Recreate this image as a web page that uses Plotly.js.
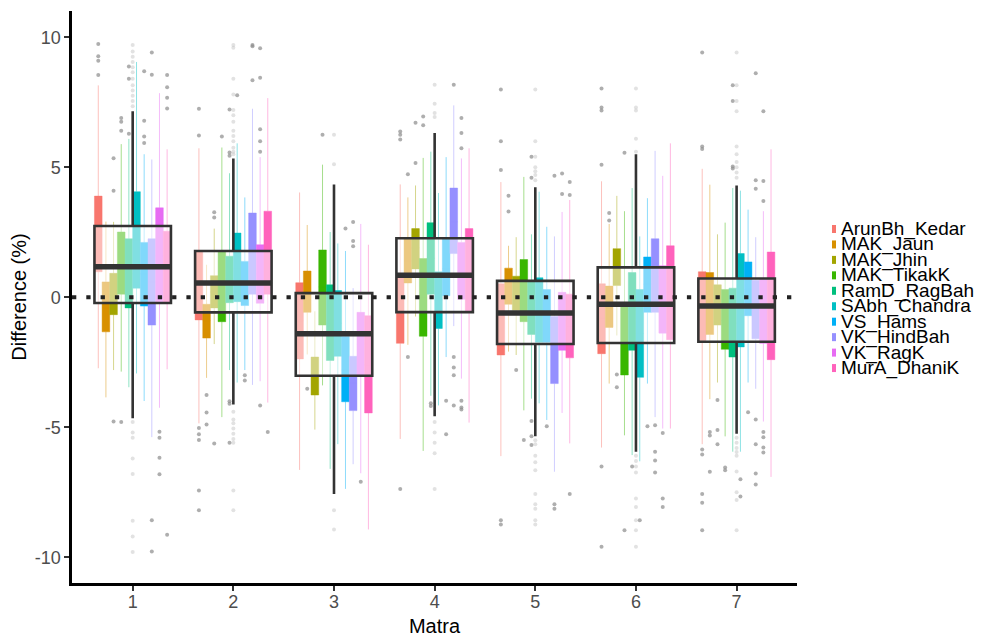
<!DOCTYPE html>
<html>
<head>
<meta charset="utf-8">
<script src="https://cdn.plot.ly/plotly-3.0.1.min.js"></script>
<style>
  html, body { margin: 0; padding: 0; background: #ffffff; }
  #plot { width: 1000px; height: 643px; }
</style>
</head>
<body>
<div id="plot"></div>
<script>
const matra = [1, 2, 3, 4, 5, 6, 7];

const performers = [
  "ArunBh_Kedar", "MAK_Jaun", "MAK_Jhin", "MAK_TikakK", "RamD_RagBah",
  "SAbh_Chandra", "VS_Hams", "VK_HindBah", "VK_RagK", "MurA_DhaniK",
];

const performerColors = [
  "#F8766D", "#D89000", "#A3A500", "#39B600", "#00BF7D",
  "#00BFC4", "#00B0F6", "#9590FF", "#E76BF3", "#FF62BC",
];

// per performer, one value per matra
const lowerFence = [
  [-2.73, -4.85, -6.64, -5.45, -6.11, -5.78, -5.65],
  [-3.85, -3.10, -2.20, -1.83, -2.09, -3.32, -3.92],
  [-2.80, -1.80, -5.09, -0.74, -2.22, -1.47, -3.28],
  [-2.86, -4.61, -3.39, -5.91, -4.35, -5.31, -5.35],
  [-3.46, -2.80, -6.60, -3.79, -3.90, -6.07, -5.94],
  [-2.93, -3.28, -5.65, -4.16, -4.08, -6.31, -5.94],
  [-3.99, -2.80, -7.37, -2.30, -4.72, -3.32, -3.28],
  [-5.38, -3.37, -6.42, -1.11, -6.71, -4.61, -3.52],
  [-4.25, -3.23, -6.77, -3.13, -4.45, -5.05, -4.78],
  [-2.77, -4.05, -8.93, -4.82, -5.62, -5.05, -6.91],
];

const q1 = [
  [0.98, -0.87, -2.37, -1.77, -2.22, -2.17, -1.67],
  [-1.33, -1.57, -0.58, 0.55, -0.27, -1.16, -1.43],
  [-0.67, -0.41, -3.76, 1.09, -0.50, 0.45, -1.07],
  [0.12, -0.94, -1.07, -1.50, -0.94, -2.99, -2.00],
  [-0.41, -0.21, -2.43, 0.12, -1.43, -2.04, -2.30],
  [0.35, -0.17, -2.27, -1.20, -1.73, -3.08, -1.91],
  [-0.34, -0.32, -4.02, 0.06, -1.73, -0.58, -0.71],
  [-1.07, 0.12, -4.36, 1.68, -3.32, -0.58, -1.60],
  [-0.21, -0.23, -3.03, -0.08, -2.04, -1.38, -1.77],
  [-0.21, 0.12, -4.45, -0.58, -2.33, -1.63, -2.40],
];

const median = [
  [2.4, 0.5, -0.9, -0.5, -0.8, -0.8, -0.3],
  [-0.4, -0.9, 0.2, 1.4, 0.4, -0.4, -0.2],
  [0.1, 0.2, -3.0, 1.9, 0.1, 1.1, -0.3],
  [1.3, 0.4, 0.4, 0.0, 0.2, -1.7, -0.9],
  [0.9, 0.7, -1.0, 1.5, -0.4, -0.5, -1.0],
  [2.2, 1.1, -1.0, -0.1, -0.5, -1.4, -0.1],
  [0.9, 0.5, -2.8, 1.1, -0.7, 0.5, 0.3],
  [0.6, 1.7, -3.3, 2.9, -2.0, 0.8, -0.5],
  [1.6, 0.9, -1.8, 1.0, -0.9, -0.1, -0.5],
  [1.2, 1.7, -2.6, 1.0, -1.1, 0.2, -0.3],
];

const q3 = [
  [3.89, 1.78, 0.56, 0.75, 0.52, 0.52, 0.98],
  [0.59, -0.27, 1.01, 2.27, 1.12, 0.43, 0.95],
  [0.92, 0.83, -2.30, 2.64, 0.81, 1.87, 0.48],
  [2.51, 1.78, 1.82, 1.49, 1.45, -0.34, 0.30],
  [2.25, 1.58, 0.48, 2.87, 0.63, 0.95, 0.35],
  [4.06, 2.47, 0.26, 0.98, 0.75, 0.30, 1.68],
  [2.11, 1.38, -1.51, 2.24, 0.30, 1.55, 1.36],
  [2.25, 3.24, -2.27, 4.20, -0.74, 2.25, 0.65],
  [3.44, 2.02, -0.58, 2.11, 0.19, 1.21, 0.69],
  [2.54, 3.31, -0.71, 2.64, 0.12, 1.98, 1.74],
];

const upperFence = [
  [8.15, 5.73, 4.03, 4.34, 4.43, 4.46, 4.94],
  [2.91, 1.25, 2.78, 3.84, 1.98, 2.82, 4.33],
  [2.90, 2.64, -0.54, 4.30, 2.31, 3.90, 2.42],
  [5.89, 5.76, 5.10, 5.36, 4.63, 3.31, 2.87],
  [6.09, 4.77, 2.51, 5.60, 2.42, 4.20, 4.20],
  [9.05, 5.92, 2.07, 4.01, 4.06, 2.34, 4.10],
  [5.50, 3.84, 1.78, 5.39, 2.71, 3.81, 3.37],
  [5.30, 7.25, 0.35, 7.38, 2.34, 5.63, 2.31],
  [7.85, 5.39, 2.82, 5.34, 3.28, 4.67, 3.31],
  [5.69, 7.66, 2.02, 5.73, 3.74, 5.92, 5.69],
];

// pooled box per matra
const allLower = [-4.65, -4.12, -7.57, -4.58, -5.35, -5.94, -5.25];
const allQ1 = [-0.22, -0.58, -3.02, -0.57, -1.80, -1.76, -1.71];
const allMedian = [1.17, 0.55, -1.40, 0.85, -0.61, -0.27, -0.34];
const allQ3 = [2.74, 1.78, 0.16, 2.27, 0.63, 1.15, 0.72];
const allUpper = [7.15, 5.34, 4.34, 6.32, 4.23, 5.50, 4.30];

// outliers: [matra, value] pairs per performer
const performerOutliers = [
  [[1, 9.74], [1, 9.27], [1, 9.1], [1, 8.55], [2, 7.25], [2, 6.22], [2, -5.03], [2, -5.27],
   [2, -5.49], [2, -7.43], [2, -8.19], [4, 6.38], [4, 6.25], [4, 6.07], [4, -7.37],
   [5, 7.99], [5, 6.0], [5, 4.89], [5, -8.58], [5, -8.74], [6, 8.03], [6, 7.3], [6, 7.18],
   [6, 5.1], [6, -6.51], [6, -9.6], [7, 9.41], [7, 5.8], [7, 5.7], [7, -5.86], [7, -6.05],
   [7, -7.57], [7, -7.9], [7, -8.96]],
  [[2, -3.76], [2, -4.43], [2, -4.89], [3, -3.52], [4, 4.73], [4, -2.3], [5, 3.9], [5, 3.3],
   [6, 3.24], [6, 2.95], [7, -5.18], [7, -5.32], [7, -6.71]],
  [[1, 5.35], [1, 4.1], [1, -4.78], [2, 3.27], [2, 3.07], [2, -5.62], [4, 6.71], [4, 5.16],
   [5, -2.8], [6, -2.97], [6, -3.46], [7, -3.95], [7, -5.11], [7, -5.65]],
  [[1, 6.89], [1, 6.75], [1, 6.4], [1, -4.8], [2, 6.18], [3, 6.25], [4, 6.95], [4, 6.62],
   [5, -5.49], [6, 5.56], [6, -8.96], [7, -6.55], [7, -6.65]],
  [[1, 8.88], [1, 8.4], [1, 6.29], [2, 7.22], [2, 5.57], [2, 5.44], [2, -4.0], [2, -4.1],
   [2, -5.6], [4, -4.08], [4, -4.18], [5, 5.4], [5, 4.6], [5, -4.76], [5, -5.35], [5, -5.68],
   [6, -6.51], [7, 8.15], [7, 7.55], [7, 5.03], [7, 4.95]],
  [[2, 7.77], [6, -8.58], [7, -7.0], [7, -7.66]],
  [[1, 8.69], [1, 6.79], [1, 6.18], [1, 5.93], [2, -3.0], [2, -3.2], [3, 2.64], [4, -3.98],
   [4, -5.27], [5, -4.96], [6, -4.96], [7, -4.42]],
  [[1, 9.41], [1, 8.56], [1, -8.58], [1, -9.78], [2, 9.7], [2, 9.65], [2, 8.35], [3, 2.89],
   [3, 2.16], [3, 1.96], [4, 8.17], [4, -2.3], [4, -2.7], [4, -3.0], [4, -4.16], [5, 4.67],
   [5, -7.96], [5, -8.13], [6, -4.92], [6, -5.94], [6, -6.28], [6, -6.74], [7, 8.62],
   [7, 4.5], [7, 4.17], [7, -4.7], [7, -5.65], [7, -6.78], [7, -7.2]],
  [[1, -5.17], [1, -5.4], [1, -6.17], [1, -6.81], [2, 9.58], [2, 8.44], [2, 6.46], [2, 6.0],
   [2, 5.6], [2, -4.16], [3, -7.1], [4, 6.89], [4, 6.32], [4, 5.73], [4, -3.98], [4, -4.24],
   [4, -4.32], [5, 4.76], [5, 3.97], [6, -5.22], [6, -7.74], [6, -8.07], [7, 7.15], [7, 4.47],
   [7, 3.7], [7, -5.18], [7, -5.38], [7, -5.78], [7, -5.97]],
  [[1, 8.55], [1, 8.08], [1, 7.67], [1, 7.26], [1, -9.13], [2, -5.18], [5, 4.43], [5, 3.93],
   [5, -7.57]],
];

const pooledOutliers = [
  [1, 9.7], [1, 9.45], [1, 9.25], [1, 9.05], [1, 8.85], [1, 8.65], [1, 8.4], [1, 8.15],
  [1, 7.95], [1, 7.75], [1, 7.55], [1, 7.35], [1, -4.8], [1, -5.2], [1, -5.4], [1, -6.2],
  [1, -6.8], [1, -8.6], [1, -9.2], [1, -9.8],
  [2, 9.7], [2, 9.6], [2, 8.4], [2, 7.8], [2, 7.2], [2, 7.0], [2, 6.75], [2, 6.4], [2, 6.2],
  [2, 6.0], [2, 5.75], [2, 5.6], [2, 5.5], [2, -4.4], [2, -4.7], [2, -4.85], [2, -5.05],
  [2, -5.25], [2, -5.45], [2, -5.6], [2, -7.43], [2, -8.19],
  [3, 6.25], [3, 5.12], [3, -8.19], [3, -8.93],
  [4, 8.17], [4, 7.44], [4, 7.09], [4, 6.93], [4, -4.8], [4, -5.2], [4, -5.6], [4, -6.0],
  [4, -7.37],
  [5, 7.99], [5, 6.0], [5, 5.4], [5, 5.0], [5, 4.85], [5, 4.7], [5, 4.5], [5, -5.5],
  [5, -5.65], [5, -6.1], [5, -6.35], [5, -6.65], [5, -7.57], [5, -7.96], [5, -8.13],
  [5, -8.58], [5, -8.74],
  [6, 8.03], [6, 7.3], [6, 7.18], [6, 6.1], [6, 5.6], [6, -6.1], [6, -6.3], [6, -6.51],
  [6, -6.74], [6, -7.74], [6, -8.07], [6, -8.58], [6, -8.96], [6, -9.6],
  [7, 9.41], [7, 8.15], [7, 7.55], [7, 7.15], [7, 5.8], [7, 5.5], [7, 5.2], [7, 5.0],
  [7, 4.8], [7, 4.6], [7, -5.4], [7, -5.6], [7, -5.8], [7, -5.95], [7, -6.1], [7, -6.7],
  [7, -7.5], [7, -7.8], [7, -8.96],
];

const yTickVals = [-10, -5, 0, 5, 10];
const yTickText = ["-10", "-5", "0", "5", "10"];

const FONT = '"Liberation Sans", Arial, sans-serif';
const BOX_GAP = 0.24;
const GROUP_SPAN = 1 - BOX_GAP;

function hexToRgba(hex, a) {
  const n = parseInt(hex.slice(1), 16);
  return "rgba(" + ((n >> 16) & 255) + "," + ((n >> 8) & 255) + "," + (n & 255) + "," + a + ")";
}

function slotX(m, k) {
  // centre of performer k's dodged box at matra m
  const w = GROUP_SPAN / performers.length;
  return m + (k + 0.5 - performers.length / 2) * w;
}

const traces = [];

performers.forEach((name, k) => {
  traces.push({
    type: "box",
    name: name,
    x: matra,
    lowerfence: lowerFence[k],
    q1: q1[k],
    median: median[k],
    q3: q3[k],
    upperfence: upperFence[k],
    alignmentgroup: "perf",
    offsetgroup: name,
    fillcolor: performerColors[k],
    line: { color: hexToRgba(performerColors[k], 0.45), width: 1 },
    whiskerwidth: 0,
    boxpoints: false,
    showlegend: false,
    hoverinfo: "skip",
  });
});

traces.push({
  type: "box",
  name: "all",
  x: matra,
  lowerfence: allLower,
  q1: allQ1,
  median: allMedian,
  q3: allQ3,
  upperfence: allUpper,
  alignmentgroup: "pool",
  offsetgroup: "pool",
  fillcolor: "rgba(255,255,255,0.5)",
  line: { color: "#333333", width: 2.6 },
  whiskerwidth: 0,
  boxpoints: false,
  showlegend: false,
  hoverinfo: "skip",
});

// thick median bar for the pooled box
traces.push({
  type: "box",
  name: "all-median",
  x: matra,
  lowerfence: allMedian,
  q1: allMedian,
  median: allMedian,
  q3: allMedian,
  upperfence: allMedian,
  alignmentgroup: "pool",
  offsetgroup: "pool",
  fillcolor: "rgba(0,0,0,0)",
  line: { color: "#333333", width: 5.5 },
  whiskerwidth: 0,
  boxpoints: false,
  showlegend: false,
  hoverinfo: "skip",
});

traces.push({
  type: "scatter",
  mode: "markers",
  x: pooledOutliers.map((p) => p[0]),
  y: pooledOutliers.map((p) => p[1]),
  marker: { color: "rgba(190,190,190,0.45)", size: 4 },
  showlegend: false,
  hoverinfo: "skip",
});

const ox = [];
const oy = [];
performerOutliers.forEach((list, k) => {
  list.forEach((p) => {
    ox.push(slotX(p[0], k));
    oy.push(p[1]);
  });
});
traces.push({
  type: "scatter",
  mode: "markers",
  x: ox,
  y: oy,
  marker: { color: "rgba(140,140,140,0.7)", size: 4 },
  showlegend: false,
  hoverinfo: "skip",
});

// compact legend drawn as text + key rects (ggplot style)
const plotLeft = 72, plotWidth = 725, plotTop = 11, plotHeight = 572;
const legendTextX = (839 - plotLeft) / plotWidth;
const keyX0 = (832 - plotLeft) / plotWidth;
const keyX1 = (836 - plotLeft) / plotWidth;
const legendTop = 229, legendStep = 15.45;

const annotations = performers.map((name, k) => ({
  xref: "paper",
  yref: "paper",
  x: legendTextX,
  y: 1 - (legendTop + k * legendStep - plotTop) / plotHeight,
  xanchor: "left",
  yanchor: "middle",
  text: name,
  showarrow: false,
  font: { family: FONT, size: 19, color: "#000000" },
}));

const shapes = performers.map((name, k) => {
  const yc = 1 - (legendTop + k * legendStep - plotTop) / plotHeight;
  const h = 4 / plotHeight;
  return {
    type: "rect",
    xref: "paper",
    yref: "paper",
    x0: keyX0,
    x1: keyX1,
    y0: yc - h,
    y1: yc + h,
    fillcolor: performerColors[k],
    line: { width: 0 },
  };
});

shapes.push({
  type: "line",
  xref: "paper",
  yref: "y",
  x0: 0,
  x1: 1,
  y0: 0,
  y1: 0,
  layer: "above",
  line: { color: "#222222", width: 4, dash: "4.3px,10px" },
});

const layout = {
  width: 1000,
  height: 643,
  paper_bgcolor: "#ffffff",
  plot_bgcolor: "#ffffff",
  font: { family: FONT, color: "#000000" },
  margin: { l: plotLeft, r: 1000 - plotLeft - plotWidth, t: plotTop, b: 643 - plotTop - plotHeight },
  boxmode: "group",
  boxgap: BOX_GAP,
  boxgroupgap: 0,
  showlegend: false,
  xaxis: {
    range: [0.397, 7.6],
    tickvals: matra,
    ticktext: matra.map(String),
    showgrid: false,
    zeroline: false,
    showline: true,
    linecolor: "#000000",
    linewidth: 2.6,
    ticks: "outside",
    ticklen: 5,
    tickwidth: 2,
    tickcolor: "#333333",
    ticklabelstandoff: -4,
    tickfont: { family: FONT, size: 18, color: "#4d4d4d" },
    title: { text: "Matra", font: { family: FONT, size: 20, color: "#000000" }, standoff: 8 },
    automargin: false,
  },
  yaxis: {
    range: [-10.99, 11.01],
    tickvals: yTickVals,
    ticktext: yTickText,
    showgrid: false,
    zeroline: false,
    showline: true,
    linecolor: "#000000",
    linewidth: 2.6,
    ticks: "outside",
    ticklen: 5,
    tickwidth: 2,
    tickcolor: "#333333",
    tickfont: { family: FONT, size: 18, color: "#4d4d4d" },
    title: { text: "Difference (%)", font: { family: FONT, size: 20, color: "#000000" }, standoff: 3 },
    automargin: false,
  },
  annotations: annotations,
  shapes: shapes,
};

Plotly.newPlot("plot", traces, layout, { displayModeBar: false, staticPlot: true });
</script>
</body>
</html>
